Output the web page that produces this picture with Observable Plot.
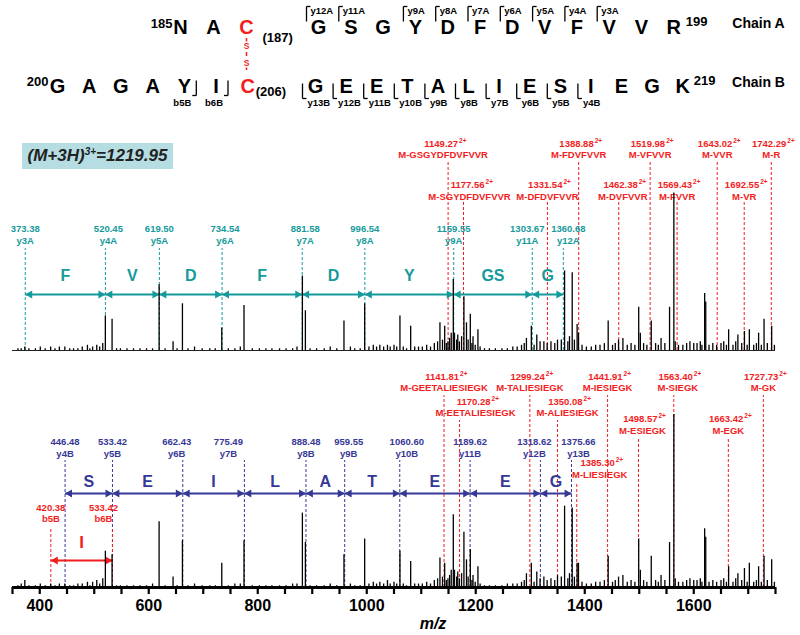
<!DOCTYPE html>
<html><head><meta charset="utf-8">
<script src="https://cdn.jsdelivr.net/npm/d3@7"></script>
<script src="https://cdn.jsdelivr.net/npm/@observablehq/plot@0.6"></script>
<style>
body{margin:0;background:#fff;}
#wrap{position:relative;width:800px;height:635px;overflow:hidden;font-family:"Liberation Sans",Arial,sans-serif;}
#seq{position:absolute;left:0;top:0;}
#spec{position:absolute;left:0;top:118px;}
#prec{position:absolute;left:22px;top:143px;width:151px;height:26px;background:#b5dde2;font-style:italic;font-weight:bold;font-size:17px;line-height:26px;text-align:center;color:#222;}
#prec .sup{font-size:10px;vertical-align:6px;line-height:0;}
#mzlab{position:absolute;left:410px;top:614px;width:46px;text-align:center;font-style:italic;font-weight:bold;font-size:16px;line-height:20px;}
</style></head><body>
<div id="wrap"><div id="seq"></div><div id="spec"></div><div id="prec"></div><div id="mzlab">m/z</div></div>
<script>
// ---------------- DATA ----------------
const chainA = ["N","A","C","G","S","G","Y","D","F","D","V","F","V","V","R"];
const chainAStart = 185;
const chainB = ["G","A","G","A","Y","I","C","G","E","E","T","A","L","I","E","S","I","E","G","K"];
const chainBStart = 200;
const cysA = 187, cysB = 206;
const seqFragA = [["y12A",188],["y11A",189],["y9A",191],["y8A",192],["y7A",193],["y6A",194],["y5A",195],["y4A",196],["y3A",197]];
const seqFragBy = [["y13B",207],["y12B",208],["y11B",209],["y10B",210],["y9B",211],["y8B",212],["y7B",213],["y6B",214],["y5B",215],["y4B",216]];
const seqFragBb = [["b5B",204],["b6B",205]];

const ionsA = [["y3A",373.38],["y4A",520.45],["y5A",619.50],["y6A",734.54],["y7A",881.58],["y8A",996.54],["y9A",1159.55],["y11A",1303.67],["y12A",1360.68]];
const stepsA = ["F","V","D","F","D","Y","GS","G"];
const lossA = [[1149.27,"M-GSGYDFDVFVVR"],[1177.56,"M-SGYDFDVFVVR"],[1331.54,"M-DFDVFVVR"],[1388.88,"M-FDVFVVR"],[1462.38,"M-DVFVVR"],[1519.98,"M-VFVVR"],[1569.43,"M-FVVR"],[1643.02,"M-VVR"],[1692.55,"M-VR"],[1742.29,"M-R"]];

const ionsB = [["y4B",446.48],["y5B",533.42],["y6B",662.43],["y7B",775.49],["y8B",888.48],["y9B",959.55],["y10B",1060.60],["y11B",1189.62],["y12B",1318.62],["y13B",1375.66]];
const stepsB = ["S","E","I","L","A","T","E","E","G"];
const bIons = [["b5B",420.38],["b6B",533.42]];
const bStep = "I";
const lossB = [[1141.81,"M-GEETALIESIEGK"],[1170.28,"M-EETALIESIEGK"],[1299.24,"M-TALIESIEGK"],[1350.08,"M-ALIESIEGK"],[1385.30,"M-LIESIEGK"],[1441.91,"M-IESIEGK"],[1498.57,"M-ESIEGK"],[1563.40,"M-SIEGK"],[1663.42,"M-EGK"],[1727.73,"M-GK"]];
const charge = "2+";
const precursorLabel = "(M+3H)", precursorCharge = "3+", precursorValue = "=1219.95";

// peaks: [m/z, relative intensity in upper (chain A) panel, relative intensity in lower (chain B) panel]
const spectrum = [
[360,1,1],[366,1,2],[372.6,2,4],[380,1,1],[392,1,1],[401,2,2],[410,1,1],[420,2,2],[428,1,1],[436,2,2],[446,2,2],[455,1,1],[462,1,1],[470,1,2],[478,2,2],[487.5,3,3],[492,1,1],[497,2,3],[504.6,3,4],[510,2,2],[515.6,4,5],[520.4,20,21],[532.7,18,19],
[541,1,1],[548,1,1],[560,1,1],[572,1,1],[584,1,1],[596,1,1],[607,1,2],[619,38,38],[630,1,1],[644.6,5,6],[652,1,1],[661.8,27,27],[672,1,1],[684,2,2],[698,1,1],[712,1,1],[722,1,1],[734,13,14],[746,1,1],[758,1,2],[768,2,2],[774.8,26,27],[790,1,1],
[803,1,1],[815,1,1],[826,1,1],[840,1,1],[852,1,1],[864,1,2],[872,2,2],[881.9,43,43],[887.4,23,26],[896,1,1],[908,1,1],[922,1,1],[933,2,2],[945,1,1],[958.2,17,19],[970,2,2],[978,1,1],[988,1,1],[996.2,27,28],
[1004,2,2],[1012,3,3],[1018,2,2],[1024,3,3],[1031,2,2],[1038,3,4],[1043,2,2],[1050,3,3],[1055,2,2],[1060.9,20,21],[1067,2,2],[1073,1,1],[1080.6,14,15],[1088,2,2],[1095,2,2],[1102,2,2],[1110,3,3],[1117,2,2],[1124,4,4],[1130,5,5],[1134.3,16,17],[1139,6,6],[1143,14,14],[1146,4,4],[1149,5,5],[1152,7,7],[1155,10,10],[1158.8,41,42],[1161,10,10],[1165,6,6],[1167,9,9],[1170,5,5],[1174,8,8],[1178.3,31,32],[1183,16,16],[1186,6,6],[1190,21,22],[1193,4,4],[1195,8,7],[1199,3,3],[1204,12,12],[1208,2,2],
[1216,1,1],[1225,1,1],[1236,1,1],[1248,1,1],[1258,1,2],[1268,2,2],[1276,2,2],[1284,3,3],[1289,4,4],[1293,7,8],[1302,14,14],[1307,3,3],[1312,9,9],[1318,5,5],[1325,5,6],[1331,4,4],[1338,5,5],[1345,4,4],[1350,6,7],[1357,6,6],[1363,46,47],[1369,5,5],[1372,8,8],[1377,45,46],[1381,6,6],[1386,15,14],[1388.5,10,14],[1395,3,3],
[1403,2,2],[1412,2,2],[1420,3,3],[1428,3,3],[1436,4,4],[1443,17,18],[1451,3,3],[1456,4,4],[1462,6,6],[1470,7,7],[1478,3,3],[1485,4,4],[1492,3,3],[1499,25,28],[1502,10,10],[1508,4,4],[1514,3,3],[1522,17,18],[1530,4,4],[1535,3,3],[1540,7,7],[1547,4,4],[1555.6,25,26],[1563.5,91,100],[1566,5,5],[1572,3,3],[1580,3,3],[1587,4,4],[1593,5,5],
[1600,4,4],[1606,4,4],[1612,5,5],[1615,3,3],[1620,33,34],[1622,28,29],[1628,3,3],[1635,4,4],[1642,3,3],[1650,4,4],[1655,5,5],[1660,3,3],[1664,12,12],[1672,3,3],[1677,5,5],[1681,9,8],[1688,4,4],[1693,11,11],[1698,3,3],[1702,12,14],[1710,3,3],[1715,4,4],[1719,10,12],[1724,3,3],[1729,18,18],[1735,4,4],[1743,14,16],[1748,3,3]
];
const xDomain = [350, 1750];
const tickLabels = [400, 600, 800, 1000, 1200, 1400, 1600];
const tickStep = 50;

// ---------------- STYLE / LAYOUT ----------------
const TEAL = "#159a9b", BLUE = "#363896", RED = "#f21d1d";
const FONT = "'Liberation Sans', Arial, sans-serif";
const lab = {fontSize: 9.5, fontWeight: "bold"};
const nudge = {"M-GSGYDFDVFVVR":-5,"M-SGYDFDVFVVR":6,"M-DVFVVR":4,"y11A":-5,"y12A":5,"y4A":3,"y6A":3,"y7A":3,
  "M-EETALIESIEGK":16,"M-ALIESIEGK":10,"M-LIESIEGK":23,"M-ESIEGK":4,"M-SIEGK":4,
  "y7B":-16,"y6B":-6,"y10B":7,"y12B":-6,"y13B":7,"y9B":4,"b6B":-9};
// rows for neutral-loss labels: [value y, name y, line top] in px above the axis line
const rowsA = {1:[444,432.5,427], 2:[402.5,391,385]};
const rowsB = {1:[211,200,192], 2:[186,175,167], 3:[169,157,150], 4:[125,113,105]};
const lossARow = {"M-GSGYDFDVFVVR":1,"M-SGYDFDVFVVR":2,"M-DFDVFVVR":2,"M-FDVFVVR":1,"M-DVFVVR":2,"M-VFVVR":1,"M-FVVR":2,"M-VVR":1,"M-VR":2,"M-R":1};
const lossBRow = {"M-GEETALIESIEGK":1,"M-EETALIESIEGK":2,"M-TALIESIEGK":1,"M-ALIESIEGK":2,"M-LIESIEGK":4,"M-IESIEGK":1,"M-ESIEGK":3,"M-SIEGK":1,"M-EGK":3,"M-GK":1};

document.getElementById("prec").innerHTML = precursorLabel + '<span class="sup">' + precursorCharge + '</span>' + precursorValue;

// ---------------- SEQUENCE PANEL ----------------
const H1 = 118;
const xA = i => i <= 2 ? 180 + 33 * i : 318 + 32.3 * (i - 3);
const xB = i => i <= 6 ? 57 + 31.7 * i : 315 + 30.6 * (i - 7);
const yA = 27, yB = 86;
const res = chainA.map((aa, i) => ({aa, num: chainAStart + i, x: xA(i), y: yA, red: chainAStart + i === cysA}))
  .concat(chainB.map((aa, i) => ({aa, num: chainBStart + i, x: xB(i), y: yB, red: chainBStart + i === cysB})));
const cA = xA(cysA - chainAStart), cB = xB(cysB - chainBStart);
const segs = [], fragStart = [], fragEnd = [];
for (const [name, r] of seqFragA) {
  const bx = xA(r - chainAStart) - 12;
  segs.push({x1: bx, y1: 6, x2: bx, y2: 21}, {x1: bx, y1: 6, x2: bx + 4, y2: 6});
  fragStart.push({name, x: bx + 4, y: 10});
}
for (const [name, r] of seqFragBy) {
  const bx = xB(r - chainBStart) - 13;
  segs.push({x1: bx, y1: 83, x2: bx, y2: 98}, {x1: bx, y1: 98, x2: bx + 4, y2: 98});
  fragStart.push({name, x: bx + 5, y: 102});
}
for (const [name, r] of seqFragBb) {
  const bx = xB(r - chainBStart) + 12;
  segs.push({x1: bx, y1: 80, x2: bx, y2: 95}, {x1: bx, y1: 95, x2: bx - 4, y2: 95});
  fragEnd.push({name, x: bx - 5, y: 102});
}
const nA = chainA.length - 1, nB = chainB.length - 1;
const numEnd = [{t: String(chainAStart), x: xA(0) - 8, y: 23}, {t: String(chainBStart), x: xB(0) - 9, y: 81}];
const numStart = [{t: String(chainAStart + nA), x: xA(nA) + 12, y: 21}, {t: String(chainBStart + nB), x: xB(nB) + 11, y: 80}];
const seqPlot = Plot.plot({
  width: 800, height: H1, margin: 0,
  x: {domain: [0, 800], range: [0, 800], axis: null},
  y: {domain: [0, H1], range: [0, H1], axis: null},
  style: {fontFamily: FONT, background: "transparent"},
  marks: [
    Plot.ruleX([cA], {y1: 38, y2: 73, stroke: RED, strokeWidth: 1.5, strokeDasharray: "4,3"}),
    Plot.text(["S", "S"], {x: cA, y: (d, i) => i ? 63 : 46, text: d => d, fill: RED, fontSize: 8.5, fontWeight: "bold", stroke: "white", strokeWidth: 3}),
    Plot.text(res, {x: "x", y: "y", text: "aa", fill: d => d.red ? RED : "black", fontSize: 20, fontWeight: "bold"}),
    Plot.text(numEnd, {x: "x", y: "y", text: "t", textAnchor: "end", fontSize: 13, fontWeight: "bold"}),
    Plot.text(numStart, {x: "x", y: "y", text: "t", textAnchor: "start", fontSize: 13, fontWeight: "bold"}),
    Plot.text([{t: `(${cysA})`, x: cA + 16, y: 37}, {t: `(${cysB})`, x: cB + 8, y: 91}],
      {x: "x", y: "y", text: "t", textAnchor: "start", fontSize: 13, fontWeight: "bold"}),
    Plot.text([{t: "Chain A", y: 23}, {t: "Chain B", y: 82}], {x: 758, y: "y", text: "t", fontSize: 14, fontWeight: "bold"}),
    Plot.link(segs, {x1: "x1", y1: "y1", x2: "x2", y2: "y2", stroke: "black", strokeWidth: 1.3}),
    Plot.text(fragStart, {x: "x", y: "y", text: "name", textAnchor: "start", fontSize: 9.5, fontWeight: "bold"}),
    Plot.text(fragEnd, {x: "x", y: "y", text: "name", textAnchor: "end", fontSize: 9.5, fontWeight: "bold"})
  ]
});
document.getElementById("seq").appendChild(seqPlot);

// ---------------- SPECTRUM PANEL ----------------
const H2 = 517, MB = 48, ML = 12, MR = 25;
const pxPerMz = (800 - ML - MR) / (xDomain[1] - xDomain[0]);
const baseA = 237, pxPerPct = 1.73;
const nx = (mz, key) => mz + (nudge[key] || 0) / pxPerMz;

function ionMarks(ions, color, base, lineTop, vVal, vName) {
  return [
    Plot.ruleX(ions, {x: d => d[1], y1: base, y2: lineTop, stroke: color, strokeWidth: 1, strokeDasharray: "3,2"}),
    Plot.text(ions, {x: d => nx(d[1], d[0]), y: vVal, text: d => d[1].toFixed(2), fill: color, ...lab}),
    Plot.text(ions, {x: d => nx(d[1], d[0]), y: vName, text: d => d[0], fill: color, ...lab})
  ];
}
function arrowMarks(ions, steps, color, v, vLetter, letterSize) {
  const s = d3.pairs(ions).map(([a, b], i) => ({a: a[1], b: b[1], t: steps[i]}));
  return [
    Plot.link(s, {x1: "a", x2: "b", y1: v, y2: v, stroke: color, strokeWidth: 2}),
    Plot.dot(s, {x: "a", y: v, symbol: "triangle", r: 3, rotate: -90, fill: color, stroke: "none", dx: 4.6}),
    Plot.dot(s, {x: "b", y: v, symbol: "triangle", r: 3, rotate: 90, fill: color, stroke: "none", dx: -4.6}),
    Plot.text(s, {x: d => (d.a + d.b) / 2, y: vLetter, text: "t", fill: color, fontSize: letterSize, fontWeight: "bold"})
  ];
}
function lossMarks(loss, rowOf, rows, base) {
  return [
    Plot.ruleX(loss, {x: d => d[0], y1: base, y2: d => rows[rowOf[d[1]]][2], stroke: RED, strokeWidth: 1, strokeDasharray: "3,2"}),
    Plot.text(loss, {x: d => nx(d[0], d[1]), y: d => rows[rowOf[d[1]]][0], text: d => d[0].toFixed(2), textAnchor: "end", dx: 15, fill: RED, ...lab}),
    Plot.text(loss, {x: d => nx(d[0], d[1]), y: d => rows[rowOf[d[1]]][0], text: () => charge, textAnchor: "start", dx: 16, dy: -3, fill: RED, fontSize: 6.5, fontWeight: "bold"}),
    Plot.text(loss, {x: d => nx(d[0], d[1]), y: d => rows[rowOf[d[1]]][1], text: d => d[1], fill: RED, ...lab})
  ];
}

const specPlot = Plot.plot({
  width: 800, height: H2, marginTop: 0, marginBottom: MB, marginLeft: ML, marginRight: MR,
  x: {domain: xDomain, label: null},
  y: {domain: [0, H2 - MB], axis: null},
  style: {fontFamily: FONT, background: "transparent", color: "black"},
  marks: [
    // upper spectrum (chain A annotations)
    Plot.ruleY([baseA], {x1: xDomain[0], x2: xDomain[1], stroke: "#222", strokeWidth: 1}),
    ...lossMarks(lossA, lossARow, rowsA, baseA),
    ...ionMarks(ionsA, TEAL, baseA, 339, 359, 347),
    ...arrowMarks(ionsA, stepsA, TEAL, 293, 311.5, 16),
    Plot.ruleX(spectrum, {x: d => d[0], y1: baseA, y2: d => baseA + d[1] * pxPerPct, stroke: "black", strokeWidth: 1.3}),
    // lower spectrum (chain B annotations)
    ...lossMarks(lossB, lossBRow, rowsB, 0),
    ...ionMarks(ionsB, BLUE, 0, 127, 146, 134),
    ...arrowMarks(ionsB, stepsB, BLUE, 94, 106, 16),
    ...ionMarks(bIons, RED, 0, 59, 80, 69),
    ...arrowMarks(bIons, [bStep], RED, 27, 45, 17),
    Plot.ruleX(spectrum, {x: d => d[0], y1: 0, y2: d => d[2] * pxPerPct, stroke: "black", strokeWidth: 1.3}),
    // axis
    Plot.ruleY([0], {stroke: "black", strokeWidth: 3}),
    Plot.axisX({ticks: d3.range(xDomain[0], xDomain[1] + 1, tickStep), tickSize: 7, tickPadding: 5, strokeWidth: 2.2,
      tickFormat: d => tickLabels.includes(d) ? String(d) : "", fontSize: 16, fontWeight: "bold", label: null})
  ]
});
document.getElementById("spec").appendChild(specPlot);
</script>
</body></html>
